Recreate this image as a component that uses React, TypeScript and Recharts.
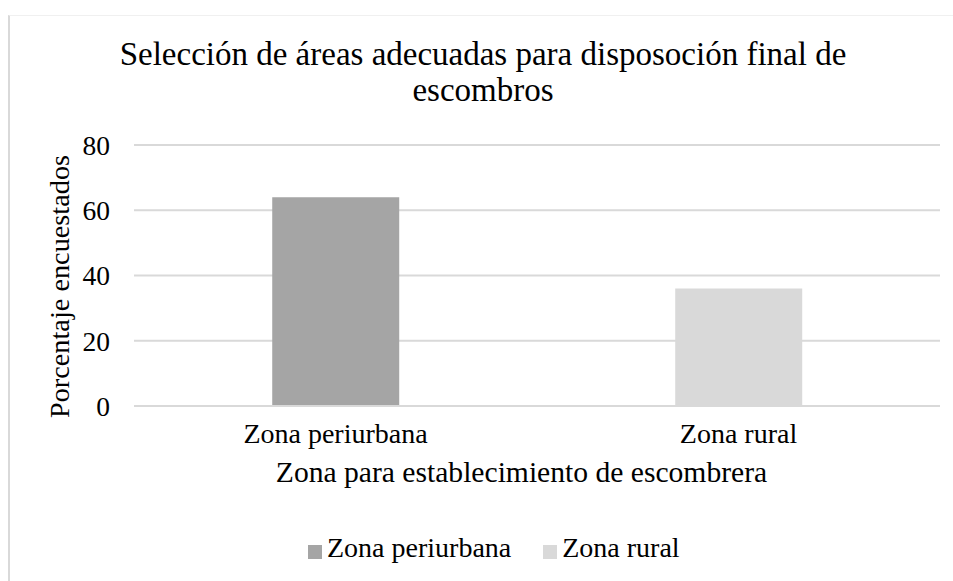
import React from 'react';
import { BarChart, Bar, XAxis, YAxis, CartesianGrid } from 'recharts';

const categories = ['Zona periurbana', 'Zona rural'];
const periurbanaValues = [64, 0];
const ruralValues = [0, 36];
const yTicks = [0, 20, 40, 60, 80];
const seriesNames = ['Zona periurbana', 'Zona rural'];
const seriesColors = ['#a5a5a5', '#d9d9d9'];
const titleLines = ['Selección de áreas adecuadas para disposoción final de', 'escombros'];
const xAxisTitle = 'Zona para establecimiento de escombrera';
const yAxisTitle = 'Porcentaje encuestados';

const data = categories.map((c, i) => ({
  cat: c,
  periurbana: periurbanaValues[i],
  rural: ruralValues[i],
}));

const FONT = '"Liberation Serif", "Times New Roman", serif';

const YLabel = (props: any) => {
  const vb = props.viewBox || {};
  const cx = vb.x + 59;
  const cy = vb.y + vb.height / 2 + 11;
  return (
    <text
      x={cx}
      y={cy}
      transform={`rotate(-90, ${cx}, ${cy})`}
      textAnchor="middle"
      dominantBaseline="central"
      fontFamily={FONT}
      fontSize={28.3}
      fill="#000"
    >
      {yAxisTitle}
    </text>
  );
};

const XLabel = (props: any) => {
  const vb = props.viewBox || {};
  const cx = vb.x + vb.width / 2 - 15.5;
  return (
    <text x={cx} y={vb.y + 76} textAnchor="middle" fontFamily={FONT} fontSize={29.6} fill="#000">
      {xAxisTitle}
    </text>
  );
};

export default function App() {
  return (
    <div style={{ position: 'absolute', left: 0, top: 0, width: 953, height: 581, background: '#fff', overflow: 'hidden' }}>
      <div
        style={{
          position: 'absolute',
          left: 8,
          top: 15,
          width: 960,
          height: 600,
          borderLeft: '2px solid #d9d9d9',
          borderTop: '1px solid #f0f0f0',
        }}
      />
      <div
        style={{
          position: 'absolute',
          left: 0,
          width: 966,
          top: 36,
          textAlign: 'center',
          fontFamily: FONT,
          fontSize: 33,
          lineHeight: '36px',
          color: '#000',
          whiteSpace: 'nowrap',
        }}
      >
        {titleLines.map((l) => (
          <div key={l}>{l}</div>
        ))}
      </div>
      <div style={{ position: 'absolute', left: 0, top: 0 }}>
        <BarChart
          width={953}
          height={581}
          data={data}
          margin={{ top: 145, right: 13, bottom: 145, left: 0 }}
          barCategoryGap="34.3%"
        >
          <CartesianGrid vertical={false} stroke="#d9d9d9" strokeWidth={2} />
          <YAxis
            width={134}
            domain={[0, 80]}
            ticks={yTicks}
            interval={0}
            axisLine={false}
            tickLine={false}
            tickSize={0}
            tickMargin={24}
            tick={{ fontFamily: FONT, fontSize: 27.5, fill: '#000' }}
            label={<YLabel />}
          />
          <XAxis
            dataKey="cat"
            height={30}
            axisLine={{ stroke: '#d9d9d9', strokeWidth: 2 }}
            tickLine={false}
            tickSize={0}
            tickMargin={17}
            tick={{ fontFamily: FONT, fontSize: 28, fill: '#000' }}
            label={<XLabel />}
          />
          <Bar dataKey="periurbana" name={seriesNames[0]} stackId="a" fill={seriesColors[0]} isAnimationActive={false} />
          <Bar dataKey="rural" name={seriesNames[1]} stackId="a" fill={seriesColors[1]} isAnimationActive={false} />
        </BarChart>
      </div>
      <div
        style={{
          position: 'absolute',
          left: 308,
          top: 532,
          display: 'flex',
          alignItems: 'flex-start',
          fontFamily: FONT,
          fontSize: 28,
          lineHeight: '32px',
          color: '#000',
          whiteSpace: 'nowrap',
        }}
      >
        {seriesNames.map((n, i) => (
          <div key={n} style={{ display: 'flex', alignItems: 'flex-start', marginRight: 32 }}>
            <span style={{ display: 'inline-block', width: 14, height: 14, background: seriesColors[i], marginRight: 5, marginTop: 13 }} />
            <span>{n}</span>
          </div>
        ))}
      </div>
    </div>
  );
}
